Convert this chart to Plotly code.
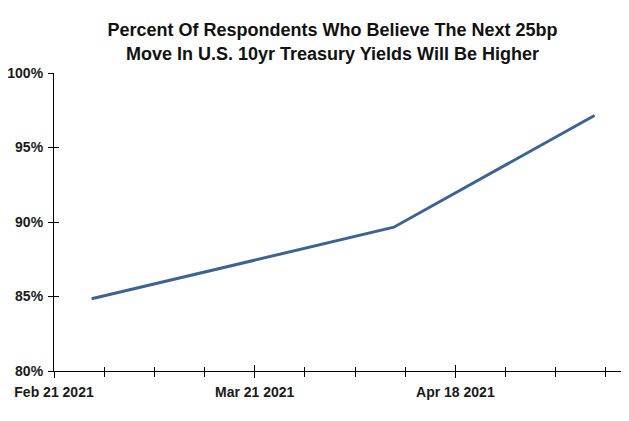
import plotly.graph_objects as go

dates = ["2021-02-26 06:00", "2021-04-09 10:00", "2021-05-07 10:00"]
pct_higher = [84.85, 89.65, 97.15]

y_ticks = [80, 85, 90, 95, 100]
y_tick_labels = ["80%", "85%", "90%", "95%", "100%"]
x_label_dates = ["2021-02-21", "2021-03-21", "2021-04-18"]
x_label_text = ["Feb 21 2021", "Mar 21 2021", "Apr 18 2021"]

fig = go.Figure()
fig.add_trace(go.Scatter(x=dates, y=pct_higher, mode="lines",
                         line=dict(color="#3d6491", width=3), showlegend=False))
# invisible trace for inside tick overlay
fig.add_trace(go.Scatter(x=dates, y=pct_higher, mode="lines", xaxis="x2", yaxis="y2",
                         line=dict(color="rgba(0,0,0,0)"), showlegend=False, hoverinfo="skip"))

xrange = ["2021-02-21", "2021-05-11 06:00"]
font_ticks = dict(family="Liberation Sans, Arial", size=14, color="#1a1a1a")

fig.update_layout(
    width=621, height=413,
    margin=dict(l=46, r=7, t=65, b=50),
    plot_bgcolor="white", paper_bgcolor="white",
    title=dict(text="<b>Percent Of Respondents Who Believe The Next 25bp<br>Move In U.S. 10yr Treasury Yields Will Be Higher</b>",
               x=0.5225, xanchor="center", y=0.931, yanchor="top",
               font=dict(family="Liberation Sans, Arial", size=18, color="#111")),
    xaxis=dict(range=xrange, tickvals=x_label_dates, ticktext=["<b>%s</b>" % t for t in x_label_text],
               ticks="outside", ticklen=6, tickcolor="black", showline=True, linecolor="black",
               linewidth=1.2, showgrid=False, zeroline=False, tickfont=font_ticks,
               ticklabelstandoff=2, automargin=False,
               minor=dict(dtick=7 * 86400000, tick0="2021-02-21", ticks="outside", ticklen=5,
                          tickcolor="black", showgrid=False)),
    yaxis=dict(range=[80, 100], tickvals=y_ticks, ticktext=["<b>%s</b>" % t for t in y_tick_labels],
               ticks="outside", ticklen=5, tickcolor="black", showline=True, linecolor="black",
               linewidth=1.2, showgrid=False, zeroline=False, tickfont=font_ticks,
               ticklabelstandoff=2, automargin=False),
    xaxis2=dict(range=xrange, overlaying="x", anchor="y2", tickvals=x_label_dates,
                showticklabels=False, ticks="inside", ticklen=6, tickcolor="black",
                showgrid=False, zeroline=False, showline=False,
                minor=dict(dtick=7 * 86400000, tick0="2021-02-21", ticks="inside", ticklen=4,
                           tickcolor="black", showgrid=False)),
    yaxis2=dict(range=[80, 100], overlaying="y", anchor="x2", tickvals=y_ticks,
                showticklabels=False, ticks="inside", ticklen=5, tickcolor="black",
                showgrid=False, zeroline=False, showline=False),
)

fig.write_html("out.html")
